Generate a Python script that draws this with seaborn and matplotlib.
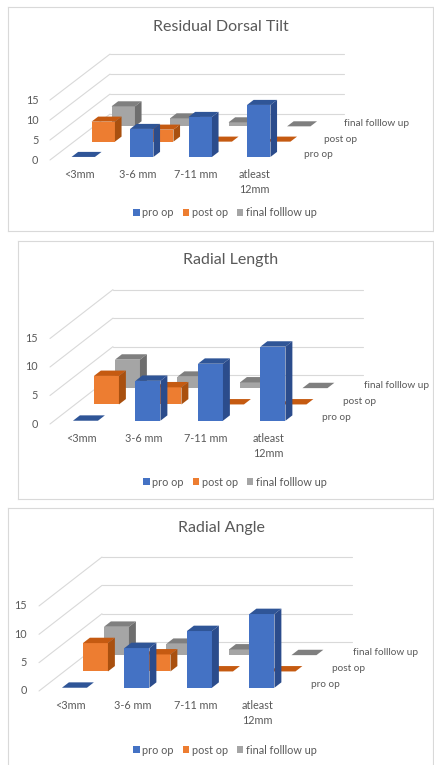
import matplotlib
matplotlib.use("Agg")
import matplotlib.pyplot as plt
from matplotlib.patches import Polygon, Patch
import seaborn as sns

categories = ["<3mm", "3-6 mm", "7-11 mm", "atleast\n12mm"]
series = ["pro op", "post op", "final folllow up"]
titles = ["Residual Dorsal Tilt", "Radial Length", "Radial Angle"]
pro_op = [0, 7, 10, 13]
post_op = [5, 3, 0, 0]
final_follow_up = [5, 2, 1, 0]
y_ticks = [0, 5, 10, 15]

sns.set_theme(style="white")
plt.rcParams["font.family"] = ["Lato", "DejaVu Sans"]

front_col = ["#4472C4", "#ED7D31", "#A5A5A5"]
top_col = ["#2F5597", "#C55A11", "#7F7F7F"]
side_col = ["#2B4C8C", "#A9500F", "#6E6E6E"]
text_col = "#595959"
grid_col = "#D9D9D9"

W, H = 434, 765
fig = plt.figure(figsize=(W / 100, H / 100), dpi=100)

# layout in pixels: panel box, floor corner, px per category, px per unit, row shift
panels = [
    dict(box=(8, 7, 433, 231), x0=50, y0=160, cw=58.5, uh=4.0, rdx=20, rdy=15.3,
         title=(221, 27), legend=(225, 213)),
    dict(box=(18, 241, 433, 499), x0=50, y0=424, cw=62.5, uh=5.7, rdx=21, rdy=16.3,
         title=(231, 260), legend=(235, 482)),
    dict(box=(8, 508, 433, 780), x0=39, y0=691, cw=62.5, uh=5.67, rdx=21, rdy=16.3,
         title=(221, 528), legend=(225, 750)),
]

values = [pro_op, post_op, final_follow_up]
bar_w = 0.4
depth = 0.33
wall = 3.0
fs = 7.8

for p, title in zip(panels, titles):
    L, T, R, B = p["box"]
    ax = fig.add_axes([L / W, 1 - B / H, (R - L) / W, (B - T) / H])
    ax.set_xlim((L - p["x0"]) / p["cw"] - 0.5, (R - p["x0"]) / p["cw"] - 0.5)
    ax.set_ylim((p["y0"] - B) / p["uh"], (p["y0"] - T) / p["uh"])
    ax.set_xticks([])
    ax.set_yticks([])
    for s in ax.spines.values():
        s.set_color(grid_col)
        s.set_linewidth(0.8)
    sx = p["rdx"] / p["cw"]
    sz = p["rdy"] / p["uh"]

    # walls
    for z in y_ticks:
        ax.plot([-0.5, -0.5 + wall * sx], [z, z + wall * sz], color=grid_col, lw=0.8, zorder=0)
        ax.plot([-0.5 + wall * sx, 3.5 + wall * sx], [z + wall * sz, z + wall * sz],
                color=grid_col, lw=0.8, zorder=0)
        ax.text(-0.7, z, str(z), ha="right", va="center", fontsize=fs, color=text_col)

    # bars, back row first
    for j in [2, 1, 0]:
        zo = 10 - 3 * j
        d = j + 0.2
        xs = [i + d * sx for i in range(len(categories))]
        base = d * sz
        ax.bar(xs, values[j], width=bar_w, bottom=base, color=front_col[j], linewidth=0, zorder=zo)
        ox, oz = depth * sx, depth * sz
        for x, v in zip(xs, values[j]):
            xl, xr = x - bar_w / 2, x + bar_w / 2
            ztop = base + v
            ax.add_patch(Polygon([(xl, ztop), (xr, ztop), (xr + ox, ztop + oz), (xl + ox, ztop + oz)],
                                 closed=True, facecolor=top_col[j], edgecolor="none", zorder=zo + 1))
            if v > 0:
                ax.add_patch(Polygon([(xr, base), (xr, ztop), (xr + ox, ztop + oz), (xr + ox, base + oz)],
                                     closed=True, facecolor=side_col[j], edgecolor="none", zorder=zo + 1))
        dl = j + 0.37
        ax.text(3.72 + dl * sx, dl * sz, series[j], ha="left", va="center", fontsize=7.2, color=text_col)

    for i, c in enumerate(categories):
        ax.text(i, -9 / p["uh"], c, ha="center", va="top", fontsize=fs,
                color=text_col, linespacing=1.45)

    fig.text(p["title"][0] / W, 1 - p["title"][1] / H, title, ha="center", va="center",
             fontsize=11.5, color=text_col)
    handles = [Patch(facecolor=c, edgecolor="none") for c in front_col]
    fig.legend(handles, series, loc="center", ncol=3, frameon=False,
               bbox_to_anchor=(p["legend"][0] / W, 1 - p["legend"][1] / H),
               fontsize=fs, handlelength=0.6, handleheight=0.6, handletextpad=0.25,
               columnspacing=0.8, labelcolor=text_col)

fig.savefig("out.png", dpi=100)
